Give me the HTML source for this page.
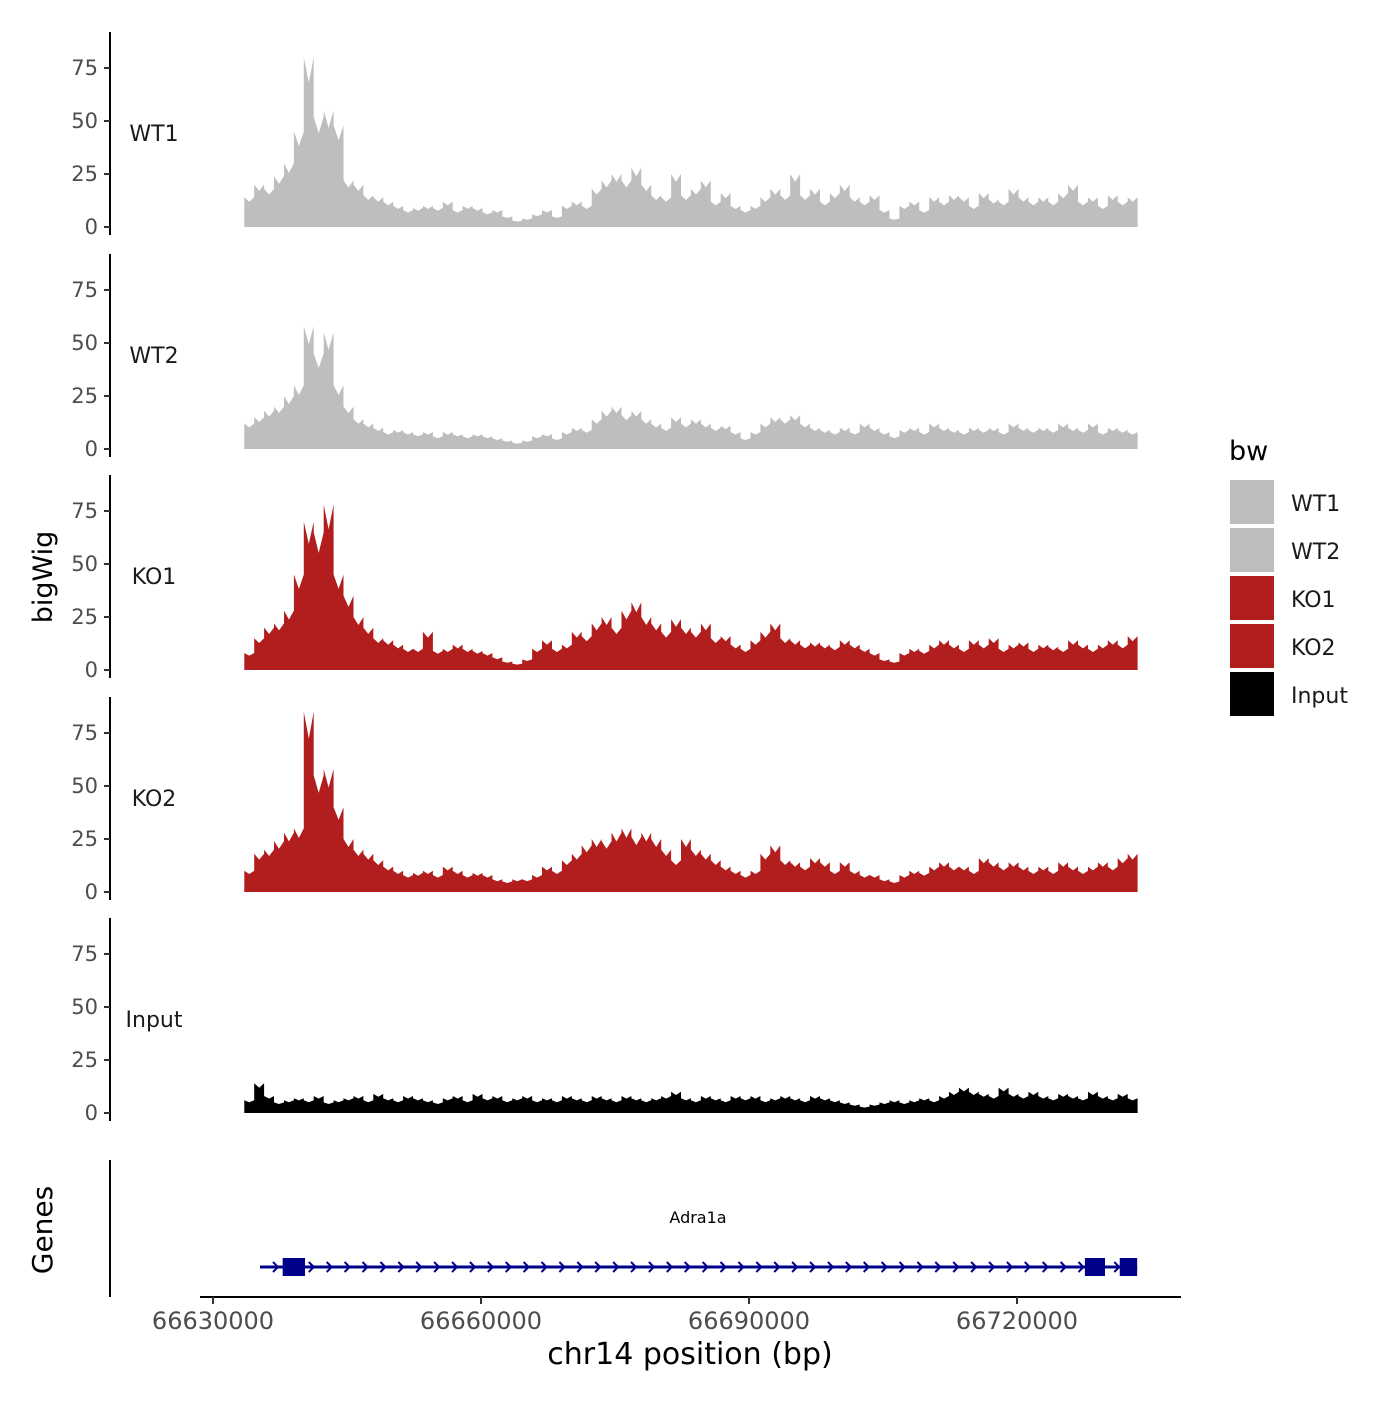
<!DOCTYPE html>
<html><head><meta charset="utf-8"><style>
body{margin:0;background:#fff}
svg{font-family:"DejaVu Sans","Liberation Sans",sans-serif}
</style></head><body>
<svg id="chart" width="1400" height="1400" viewBox="0 0 1400 1400" xmlns="http://www.w3.org/2000/svg">
<g id="panels"></g>
<g id="genes">
  <line x1="110" y1="1160" x2="110" y2="1297" stroke="#000" stroke-width="2"/>
  <text x="52" y="1230" font-size="28" transform="rotate(-90 52 1230)" text-anchor="middle">Genes</text>
  <text x="698" y="1223" font-size="16" text-anchor="middle">Adra1a</text>
  <g id="gene-model"></g>
</g>
<g id="xaxis">
  <line x1="200" y1="1297" x2="1181" y2="1297" stroke="#000" stroke-width="2"/>
</g>
<text x="690" y="1364" font-size="30" text-anchor="middle">chr14 position (bp)</text>
<text x="52" y="577" font-size="27" transform="rotate(-90 52 577)" text-anchor="middle">bigWig</text>
<g id="legend">
  <text x="1229" y="460" font-size="27">bw</text>
</g>
</svg>
<script>
const trackNames=["WT1","WT2","KO1","KO2","Input"];
const trackColors=["#bebebe","#bebebe","#b21e1e","#b21e1e","#000000"];
const yTicks=[0,25,50,75];
const xTicks=[66630000,66660000,66690000,66720000];
const regionStart=66633500, regionEnd=66733500;
const wt1=[14,20,18,24,30,45,80,52,55,48,22,20,15,14,12,10,8,9,10,9,12,8,10,9,7,8,5,3,4,6,8,5,10,12,10,18,22,25,22,28,20,15,14,25,15,18,22,12,16,10,8,10,14,18,15,25,15,18,12,16,20,14,12,15,8,4,10,12,8,14,12,15,14,10,16,13,12,18,14,12,14,12,16,20,12,14,10,15,12,14];
const wt2=[12,15,18,20,25,30,58,45,55,30,20,14,12,10,8,9,8,7,8,6,8,7,6,7,6,5,4,3,4,6,7,5,8,10,9,14,18,20,16,18,14,12,10,15,12,14,12,10,11,8,5,8,12,15,14,16,12,10,9,8,10,8,12,10,8,6,9,10,8,12,10,9,8,10,9,10,8,12,10,9,10,9,12,10,9,12,8,10,9,8];
const ko1=[8,15,20,22,28,45,70,65,78,45,35,25,20,15,14,12,10,10,18,9,10,12,10,9,8,6,4,3,5,10,14,10,12,18,16,22,25,20,28,32,25,22,18,24,20,18,22,15,16,12,10,14,18,22,15,14,12,13,12,11,14,12,10,8,5,4,8,10,9,12,14,12,10,14,12,15,10,12,13,10,12,11,10,14,12,10,12,14,12,16];
const ko2=[10,18,20,24,28,30,85,55,58,40,25,20,18,15,12,10,8,9,10,8,12,10,8,9,8,6,5,6,6,8,12,10,15,18,22,25,24,28,30,26,28,25,20,15,25,20,18,15,12,10,8,10,18,22,15,14,12,16,14,10,14,10,8,8,6,5,8,10,9,12,14,12,12,10,16,14,12,14,12,10,12,10,14,12,10,12,14,12,16,18];
const inputTrack=[6,14,8,5,6,7,6,8,5,6,7,8,6,9,7,6,8,7,6,5,7,8,6,9,7,8,6,7,8,6,7,6,8,7,6,8,7,6,8,7,6,7,8,10,7,6,8,7,6,8,7,8,6,7,8,7,6,8,7,6,5,4,3,4,5,6,5,6,7,6,8,10,12,10,9,8,12,9,8,10,8,7,9,8,7,10,8,7,9,7];
const exonStarts=[66637800,66727600,66731500];
const exonEnds=[66640300,66729850,66733450];
const geneStart=66635260, geneEnd=66733450;
const tracks=[wt1,wt2,ko1,ko2,inputTrack];

const NS="http://www.w3.org/2000/svg";
function xScale(p){return 213+(p-66630000)*(268/30000);}
const zeros=[227,449,670,892,1113];
function yScale(v,i){return zeros[i]-v*2.12;}
function mk(tag,attrs,parent){const e=document.createElementNS(NS,tag);for(const k in attrs)e.setAttribute(k,attrs[k]);parent.appendChild(e);return e;}

const panels=document.getElementById('panels');
tracks.forEach((vals,i)=>{
  const g=mk('g',{},panels);
  
  
  const ax=mk('line',{x1:110,x2:110,y1:zeros[i]-195,y2:zeros[i]+8,stroke:'#000','stroke-width':2},g);
  
  
  yTicks.forEach(t=>{
    const y=yScale(t,i);
    const tk=mk('line',{x1:104,x2:110,y1:y,y2:y,stroke:'#333','stroke-width':2},g);
    
    
    const tl=mk('text',{x:98,y:y+7,'font-size':21,fill:'#4d4d4d','text-anchor':'end'},g);
    tl.textContent=t;
    
    
  });
  const lab=mk('text',{x:154,y:zeros[i]-86,'font-size':22,fill:'#1a1a1a','text-anchor':'middle'},g);
  lab.textContent=trackNames[i];
  
  
  const bw=(regionEnd-regionStart)/vals.length;
  let d='M'+xScale(regionStart)+','+zeros[i];
  vals.forEach((v,j)=>{
    const x0=xScale(regionStart+j*bw), x1=xScale(regionStart+(j+1)*bw);
    const y=yScale(v,i);
    d+=' L'+x0.toFixed(1)+','+y.toFixed(1)+' L'+((x0+x1)/2).toFixed(1)+','+yScale(v*0.85,i).toFixed(1)+' L'+x1.toFixed(1)+','+y.toFixed(1);
  });
  d+=' L'+xScale(regionEnd)+','+zeros[i]+' Z';
  const area=mk('path',{d:d,fill:trackColors[i]},g);
  
  
});

const gm=document.getElementById('gene-model');
const gl=mk('line',{x1:xScale(geneStart),x2:xScale(geneEnd),y1:1267,y2:1267,stroke:'#00008b','stroke-width':3},gm);


for(let x=xScale(geneStart)+17;x<xScale(geneEnd)-2;x+=17.9){
  const a=mk('path',{d:`M${x-4},${1262} L${x+1},${1267} L${x-4},${1272}`,stroke:'#00008b','stroke-width':2,fill:'none'},gm);
  
  
}
exonStarts.forEach((s,k)=>{
  const x0=xScale(s),x1=xScale(exonEnds[k]);
  const r=mk('rect',{x:x0,y:1258,width:x1-x0,height:18,fill:'#00008b'},gm);
  
  
});

const xa=document.getElementById('xaxis');
xTicks.forEach(t=>{
  const x=xScale(t);
  const tk=mk('line',{x1:x,x2:x,y1:1297,y2:1304,stroke:'#333','stroke-width':2},xa);
  
  
  const tl=mk('text',{x:x,y:1329,'font-size':24,fill:'#4d4d4d','text-anchor':'middle'},xa);
  tl.textContent=t;
  
  
});

const lg=document.getElementById('legend');
trackNames.forEach((n,i)=>{
  const y=480+i*48;
  const r=mk('rect',{x:1230,y:y,width:44,height:44,fill:trackColors[i]},lg);
  
  
  const t=mk('text',{x:1291,y:y+31,'font-size':22,fill:'#1a1a1a'},lg);
  t.textContent=n;
  
  
});
</script>
</body></html>
